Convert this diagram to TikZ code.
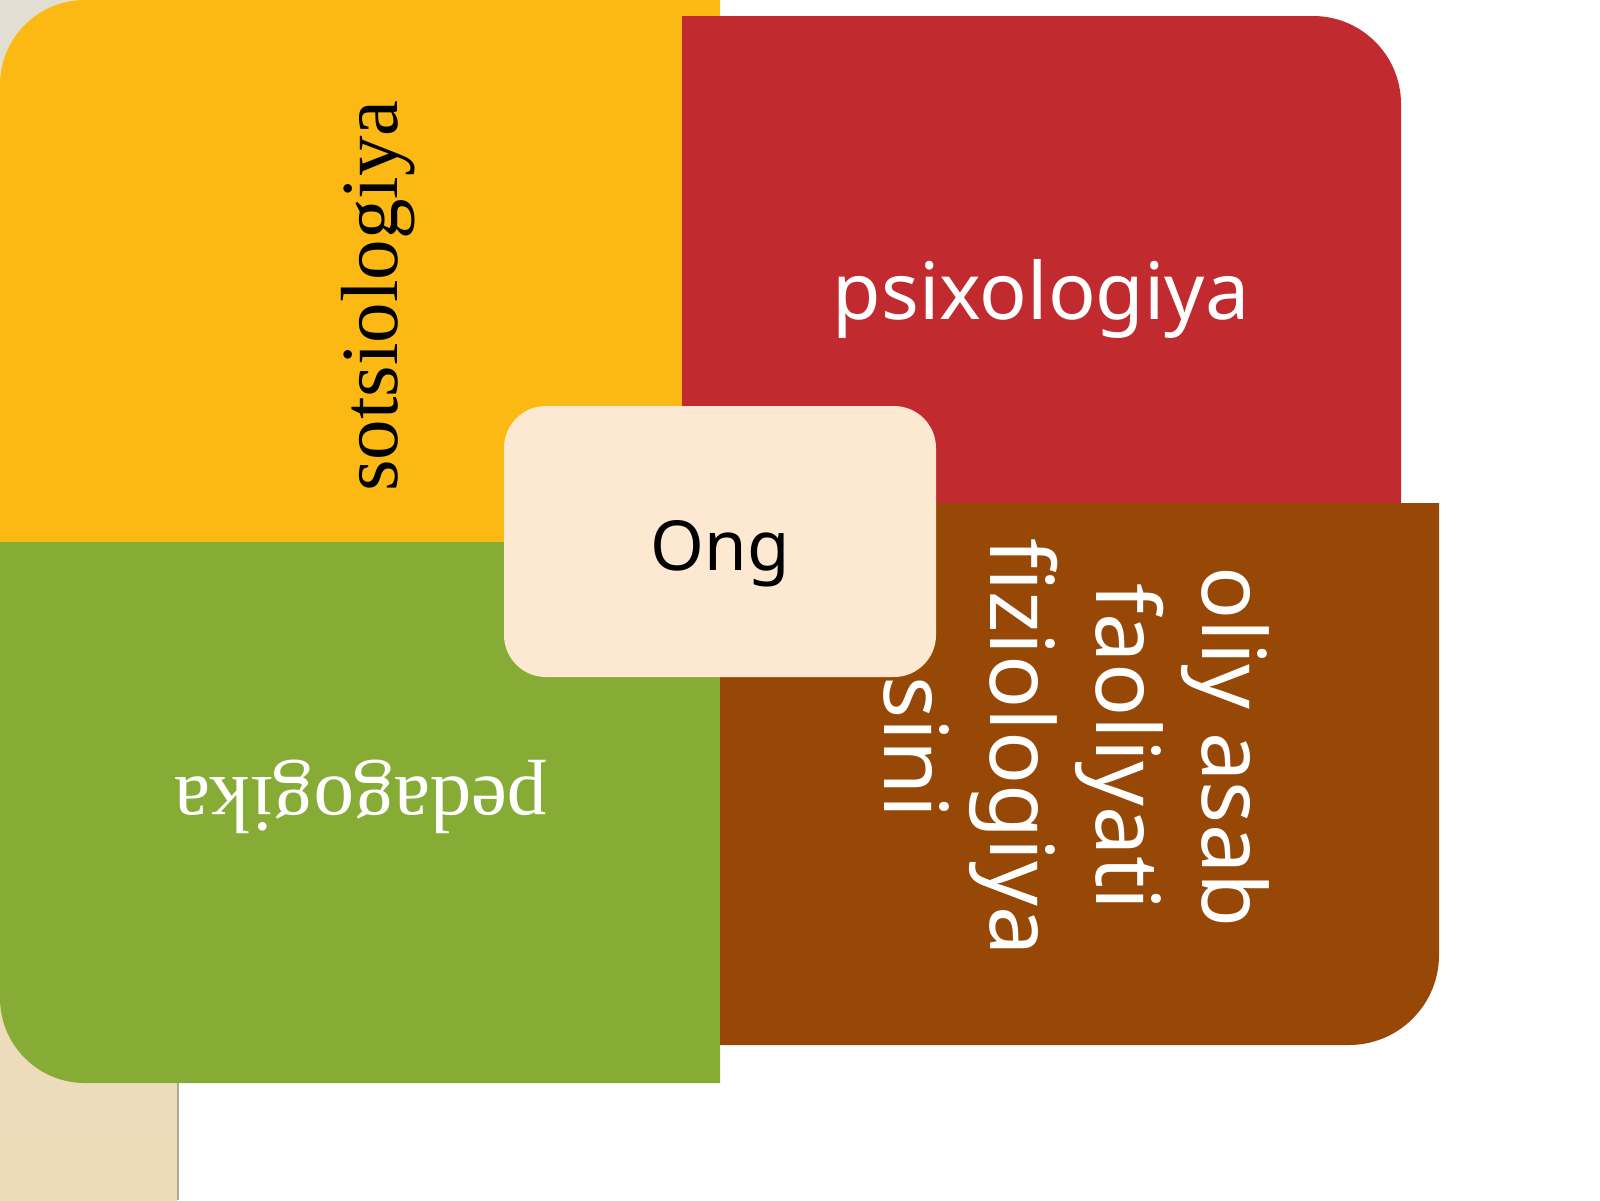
\documentclass[tikz,border=0pt]{standalone}
\usepackage{fontspec}
\setmainfont{Liberation Serif}
\newfontfamily\notosans{Noto Sans}
\definecolor{cYel}{HTML}{FDB913}
\definecolor{cRed}{HTML}{C12B30}
\definecolor{cGrn}{HTML}{87AC35}
\definecolor{cBrn}{HTML}{974806}
\definecolor{cOng}{HTML}{FDE9D1}
\definecolor{cBgTop}{HTML}{E3DED3}
\definecolor{cBgBot}{HTML}{EEDCB8}
\definecolor{cShadow}{HTML}{B5A78E}
\begin{document}
\begin{tikzpicture}[x=1pt,y=-1pt,
  serifT/.style={inner sep=0pt, font=\fontsize{81}{97}\selectfont},
  sansT/.style={inner sep=0pt, font=\notosans\fontsize{79}{95}\selectfont},
  brnT/.style={inner sep=0pt, align=center, text=white, font=\notosans\fontsize{88}{106}\selectfont},
  ongbox/.style={fill=cOng, rounded corners=42pt, minimum width=432pt, minimum height=271pt,
    inner sep=0pt, text height=74pt, text depth=17pt, font=\notosans\fontsize{69}{83}\selectfont}]
\useasboundingbox (0,0) rectangle (1600,1200);
\fill[white] (0,0) rectangle (1600,1200);
% beige strip at left
\shade[top color=cBgTop, bottom color=cBgBot] (0,0) rectangle (177,1200);
\draw[cShadow, line width=2.5pt] (178,0) -- (178,1200);
% yellow (top-left)
\fill[cYel] (0,542) -- (0,85) .. controls (0,38) and (38,0) .. (85,0) -- (720,0) -- (720,542) -- cycle;
% red (top-right)
\fill[cRed] (682,16) -- (1313,16) .. controls (1361.6,16) and (1401,55.4) .. (1401,104) -- (1401,542) -- (682,542) -- cycle;
% green (bottom-left)
\fill[cGrn] (0,542) -- (720,542) -- (720,1083) -- (85,1083) .. controls (38,1083) and (0,1045) .. (0,998) -- cycle;
% brown (bottom-right)
\fill[cBrn] (720,503) -- (1439,503) -- (1439,955) .. controls (1439,1004.7) and (1398.7,1045) .. (1349,1045) -- (720,1045) -- cycle;
% texts
\node[serifT, rotate=90, anchor=base, text=black] (sots) at (397,296) {sotsiologiya};
\node[serifT, rotate=180, anchor=base, text=white] (peda) at (361,777) {pedagogika};
\node[sansT, anchor=base, text=white] (psix) at (1041,319) {psixologiya};
\node[brnT, rotate=-90, anchor=center] (oliy) at (1065,747)
  {\strut oliy asab\\\strut faoliyati\\\strut fiziologiya\\\strut sini};
% centre box
\node[ongbox] (ong) at (720,541.5) {Ong};
\end{tikzpicture}
\end{document}
